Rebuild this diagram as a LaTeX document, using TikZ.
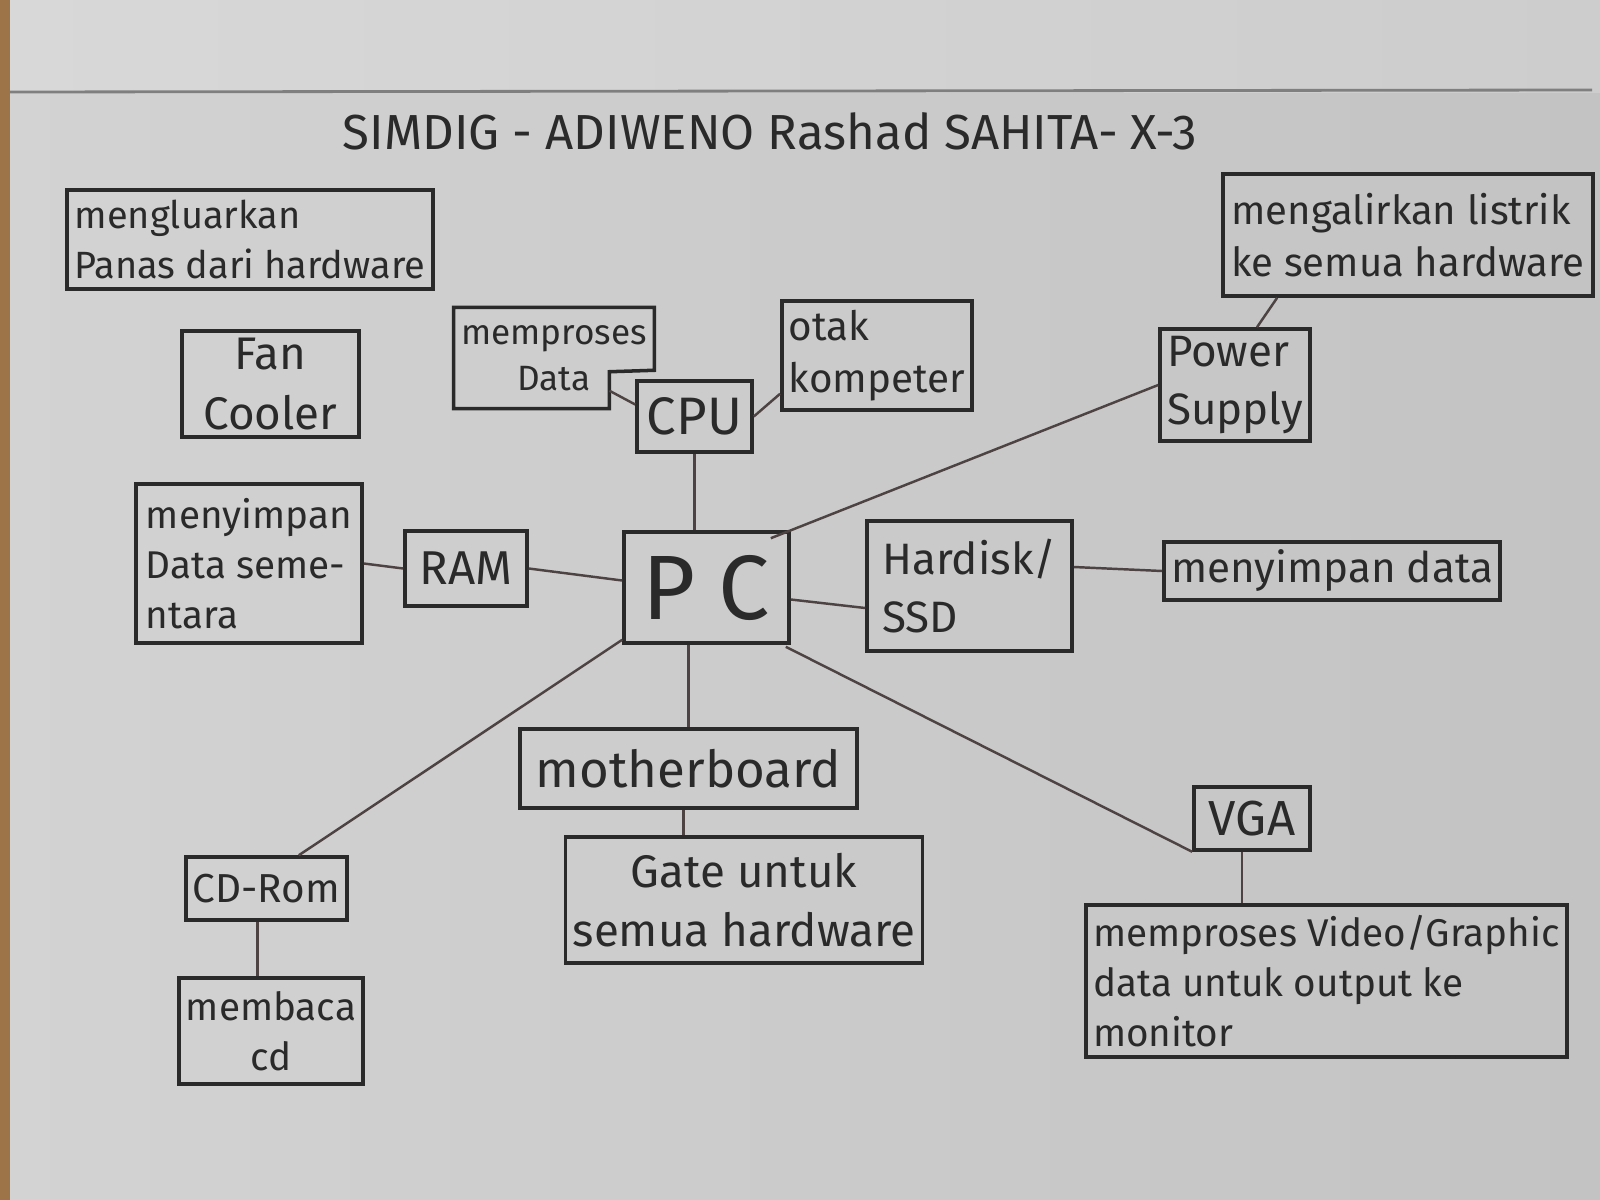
\documentclass[tikz,border=0pt]{standalone}
\usepackage{fontspec}
\setmainfont{Fira Sans}
\usetikzlibrary{calc}
\definecolor{ink}{HTML}{2A2A2A}
\definecolor{wire}{HTML}{4E4343}
\definecolor{paperL}{HTML}{D3D3D3}
\definecolor{paperR}{HTML}{C3C3C3}
\definecolor{topL}{HTML}{D8D8D8}
\definecolor{topR}{HTML}{CDCDCD}
\definecolor{wood}{HTML}{9C7448}
\newcommand{\fs}[1]{\fontsize{#1}{1.3\dimexpr #1pt\relax}\selectfont}
\tikzset{
  box/.style={draw=ink, line width=1pt, rectangle, inner sep=2pt, text=ink},
  plainbox/.style={rectangle, inner sep=2pt, text=ink},
  outline/.style={draw=ink, line width=1pt},
  link/.style={draw=wire, line width=0.7pt},
}
\begin{document}
\begin{tikzpicture}[x=0.01cm,y=-0.01cm]
\useasboundingbox (0,0) rectangle (1600,1200);
% paper
\shade[left color=paperL, right color=paperR] (0,92) rectangle (1600,1200);
\shade[left color=topL, right color=topR] (0,0) rectangle (1600,92);
\fill[wood] (0,0) rectangle (10,1200);
\draw[ink!60, line width=0.8pt] (10,92) -- (1592,90);

% title
\node[text=ink, font=\fs{14}] (title) at (770,131) {SIMDIG - ADIWENO Rashad SAHITA- X-3};

% boxes
\node[box, minimum width=3.66cm, minimum height=0.99cm, align=left, font=\fs{10.8}] (panas) at (250,239.5) {mengluarkan\\Panas dari hardware};
\node[box, minimum width=1.77cm, minimum height=1.04cm, align=center, font=\fs{13}] (fan) at (270.5,384) {Fan\\Cooler};
\node[box, minimum width=2.26cm, minimum height=1.59cm, align=left, font=\fs{11}] (ramtext) at (249,563.5) {menyimpan\\Data seme-\\ntara};
\node[box, minimum width=1.22cm, minimum height=0.75cm, font=\fs{13.5}] (ram) at (466,568.5) {RAM};
\node[plainbox, minimum width=1.98cm, minimum height=1.00cm, align=center, font=\fs{10}] (proses) at (554,358) {memproses\\Data};
\node[box, minimum width=1.15cm, minimum height=0.71cm, font=\fs{15}] (cpu) at (694.5,416.5) {CPU};
\node[box, minimum width=1.88cm, minimum height=1.09cm, align=left, font=\fs{11.5}] (otak) at (877,355.5) {otak\\kompeter};
\node[box, minimum width=1.65cm, minimum height=1.11cm, font=\fs{26}] (pc) at (706.5,587.5) {P\hspace{0.25em}C};
\node[box, minimum width=1.50cm, minimum height=1.12cm, align=left, font=\fs{12.5}] (ps) at (1235,385) {Power\\Supply};
\node[box, minimum width=3.70cm, minimum height=1.22cm, align=left, font=\fs{11.4}] (listrik) at (1408,235) {mengalirkan listrik\\ke semua hardware};
\node[box, minimum width=2.05cm, minimum height=1.30cm, align=left, font=\fs{12.5}] (hdd) at (969.5,586) {Hardisk/\\SSD};
\node[box, minimum width=3.34cm, minimum height=0.58cm, font=\fs{12}] (simpan) at (1332,571) {menyimpan data};
\node[box, minimum width=3.37cm, minimum height=0.79cm, font=\fs{14.5}] (mobo) at (688.5,768.5) {motherboard};
\node[box, minimum width=3.52cm, minimum height=1.26cm, align=center, font=\fs{13}] (gate) at (744,900) {Gate untuk\\semua hardware};
\node[box, minimum width=1.55cm, minimum height=0.63cm, font=\fs{11.5}] (cd) at (266.5,888.5) {CD-Rom};
\node[box, minimum width=1.82cm, minimum height=1.06cm, align=center, font=\fs{11}] (baca) at (271,1031) {membaca\\cd};
\node[box, minimum width=1.16cm, minimum height=0.63cm, font=\fs{14}] (vga) at (1252,818.5) {VGA};
\node[box, minimum width=4.71cm, minimum height=1.52cm, align=left, font=\fs{11}] (vid) at (1326.5,981) {memproses Video/Graphic\\data untuk output ke\\monitor};

% notched outline of "memproses Data"
\draw[outline] (proses.north west) -- (proses.north east) -- ($(proses.north east)+(0,63)$)
  -- ($(proses.south east)+(-45,-37)$) -- ($(proses.south east)+(-45,0)$) -- (proses.south west) -- cycle;
\coordinate (notch) at ($(proses.south east)+(-45,-18)$);

% connector end points
\coordinate (mbS) at ($(mobo.south)+(-5,0)$);
\coordinate (cdS) at ($(cd.south)+(-9,0)$);
\coordinate (vgaS) at ($(vga.south)+(-10,0)$);

% connectors
\draw[link] (notch) -- ($(cpu.west)+(0,-12)$);
\draw[link] (cpu.east) -- ($(otak.south west)+(0,-18)$);
\draw[link] (cpu.south) -- (cpu.south |- pc.north);
\draw[link] (ramtext.east) -- (ram.west);
\draw[link] (ram.east) -- ($(pc.west)+(0,-7)$);
\draw[link] ($(pc.north east)+(-20,8)$) -- (ps.west);
\draw[link] ($(ps.north)+(22,0)$) -- ($(listrik.south west)+(56,0)$);
\draw[link] ($(pc.east)+(0,12)$) -- ($(hdd.west)+(0,22)$);
\draw[link] ($(hdd.east)+(0,-19)$) -- (simpan.west);
\draw[link] (mobo.north |- pc.south) -- (mobo.north);
\draw[link] ($(pc.south west)+(0,-5)$) -- ($(cd.north east)+(-50,0)$);
\draw[link] ($(pc.south east)+(-5,2)$) -- (vga.south west);
\draw[link] (mbS) -- (mbS |- gate.north);
\draw[link] (cdS) -- (cdS |- baca.north);
\draw[link] (vgaS) -- (vgaS |- vid.north);
\end{tikzpicture}
\end{document}
